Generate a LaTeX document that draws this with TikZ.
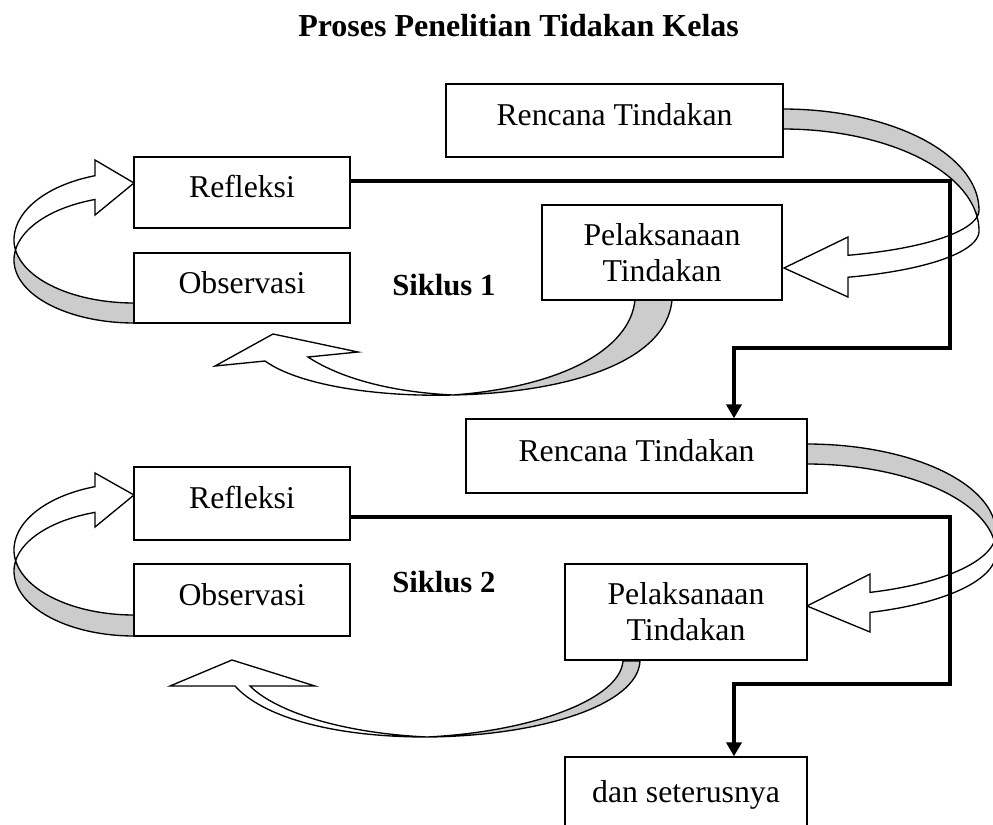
\documentclass[tikz,border=0pt]{standalone}
\usepackage{fontspec}
\setmainfont{Liberation Serif}
\usetikzlibrary{arrows.meta,calc}
\begin{document}
\begin{tikzpicture}[x=0.75pt,y=-0.75pt,
  box/.style={draw, line width=1.1pt, fill=white, inner sep=0pt,
    font=\fontsize{23.8}{27}\selectfont, text height=16.4pt, text depth=8.6pt},
  box2/.style={draw, line width=1.1pt, fill=white, inner sep=0pt, align=center,
    font=\fontsize{23.8}{27}\selectfont},
  sz/.style 2 args={minimum width=#1*0.75pt, minimum height=#2*0.75pt},
  back/.style={fill=gray!40, draw=black, line width=1pt, line join=round, variable=\t, samples=40},
  front/.style={fill=white, draw=black, line width=1pt, line join=miter, variable=\t, samples=40},
  conn/.style={line width=2.3pt, -{Triangle[width=11.5pt,length=10.5pt]}},
  lbl/.style={font=\bfseries\fontsize{23}{27}\selectfont, anchor=base west, inner sep=0pt}]
\useasboundingbox (0,0) rectangle (993,825);

% title and cycle labels
\node[font=\bfseries\fontsize{24}{28}\selectfont, anchor=base west, inner sep=0pt] (title) at (298,36) {Proses Penelitian Tidakan Kelas};
\node[lbl] (s1) at (392,295) {Siklus 1};
\node[lbl] (s2) at (392,592) {Siklus 2};

% ---- curved arrows, cycle 1 ----
% Rencana -> Pelaksanaan
\path[back]
  plot[domain=-90:0] ({783+196*cos(\t)},{210+101*sin(\t)})
  -- plot[domain=0:8.05] ({783+196*cos(\t)},{210+48*sin(\t)})
  -- plot[domain=-8.05:-90] ({783+196*cos(\t)},{231+102*sin(\t)})
  -- cycle;
\path[front]
  plot[domain=8.05:70.63] ({783+196*cos(\t)},{210+48*sin(\t)})
  -- (848,237) -- (784,268) -- (848,297)
  -- plot[domain=70.63:0] ({783+196*cos(\t)},{231+49*sin(\t)})
  -- plot[domain=0:-8.05] ({783+196*cos(\t)},{231+102*sin(\t)})
  -- cycle;
% Pelaksanaan -> Observasi
\path[back] (672,300) .. controls (666,365) and (560,393) .. (453,395)
  .. controls (560,387) and (630,350) .. (635,300) -- cycle;
\path[front] (453,395) .. controls (380,397) and (300,386) .. (265,361)
  -- (215,366) -- (273,334) -- (358,352) -- (308,357)
  .. controls (340,378) and (390,392) .. (453,395) -- cycle;
% Observasi -> Refleksi
\path[back]
  plot[domain=90:170.94] ({134+120*cos(\t)},{240+63*sin(\t)})
  -- plot[domain=189.06:180] ({134+120*cos(\t)},{260+64*sin(\t)})
  -- plot[domain=180:90] ({134+120*cos(\t)},{260+63*sin(\t)})
  -- cycle;
\path[front]
  plot[domain=170.94:180] ({134+120*cos(\t)},{240+63*sin(\t)})
  -- plot[domain=180:251.03] ({134+120*cos(\t)},{240+68*sin(\t)})
  -- (95,160) -- (134,183) -- (95,215)
  -- plot[domain=251.03:189.06] ({134+120*cos(\t)},{260+64*sin(\t)})
  -- cycle;

% ---- curved arrows, cycle 2 ----
\path[back]
  plot[domain=-90:0] ({807+189*cos(\t)},{533+89*sin(\t)})
  -- plot[domain=0:7.56] ({807+189*cos(\t)},{533+63*sin(\t)})
  -- plot[domain=-7.56:-90] ({807+189*cos(\t)},{553+89*sin(\t)})
  -- cycle;
\path[front]
  plot[domain=7.56:70.53] ({807+189*cos(\t)},{533+63*sin(\t)})
  -- (870,574) -- (807,606) -- (870,632)
  -- plot[domain=70.53:0] ({807+189*cos(\t)},{553+63*sin(\t)})
  -- plot[domain=0:-7.56] ({807+189*cos(\t)},{553+89*sin(\t)})
  -- cycle;
\path[back] (640,661) .. controls (638,705) and (540,736) .. (427,737)
  .. controls (530,732) and (620,700) .. (623,661) -- cycle;
\path[front] (427,737) .. controls (330,737) and (262,716) .. (235,686)
  -- (170,686) -- (232,660) -- (315,686) -- (250,686)
  .. controls (275,711) and (340,733) .. (427,737) -- cycle;
\path[back]
  plot[domain=90:170.48] ({134+120*cos(\t)},{550+65*sin(\t)})
  -- plot[domain=189.52:180] ({134+120*cos(\t)},{571+62*sin(\t)})
  -- plot[domain=180:90] ({134+120*cos(\t)},{571+65*sin(\t)})
  -- cycle;
\path[front]
  plot[domain=170.48:180] ({134+120*cos(\t)},{550+65*sin(\t)})
  -- plot[domain=180:251.03] ({134+120*cos(\t)},{550+67*sin(\t)})
  -- (95,473) -- (134,495) -- (95,527)
  -- plot[domain=251.03:189.52] ({134+120*cos(\t)},{571+62*sin(\t)})
  -- cycle;

% ---- boxes ----
\node[box, sz={337}{73}] (ren1) at (614.5,120.5) {Rencana Tindakan};
\node[box, sz={216}{71}] (ref1) at (242,192.5) {Refleksi};
\node[box, sz={216}{70}] (obs1) at (242,288) {Observasi};
\node[box2, sz={240}{95}] (pel1) at (662,252.5) {Pelaksanaan\\Tindakan};
\node[box, sz={341}{74}] (ren2) at (636.5,456) {Rencana Tindakan};
\node[box, sz={216}{73}] (ref2) at (242,503.5) {Refleksi};
\node[box, sz={216}{72}] (obs2) at (242,600) {Observasi};
\node[box2, sz={242}{96}] (pel2) at (686,612) {Pelaksanaan\\Tindakan};
\node[box, sz={242}{80}] (dan) at (686,797) {dan seterusnya};

% ---- connectors ----
\coordinate (c1a) at (950,181);
\coordinate (c1b) at (950,348);
\coordinate (c1c) at (734,348);
\draw[conn] (ref1.east |- c1a) -- (c1a) -- (c1b) -- (c1c) -- (c1c |- ren2.north);
\coordinate (c2a) at (950,517);
\coordinate (c2b) at (950,684);
\coordinate (c2c) at (734,684);
\draw[conn] (ref2.east |- c2a) -- (c2a) -- (c2b) -- (c2c) -- (c2c |- dan.north);
\end{tikzpicture}
\end{document}
